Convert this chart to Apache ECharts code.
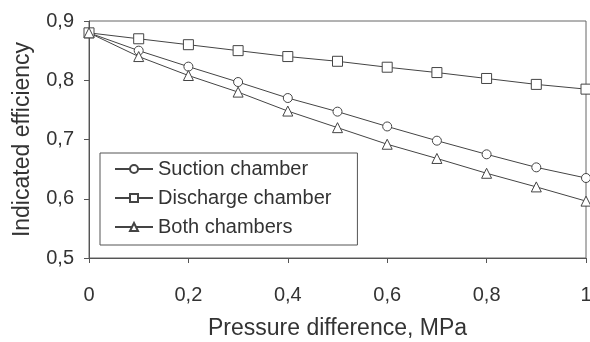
<!DOCTYPE html>
<html>
<head>
<meta charset="utf-8">
<script src="https://cdn.jsdelivr.net/npm/echarts@6/dist/echarts.min.js"></script>
<style>
  html, body { margin: 0; padding: 0; background: #fff; }
  #chart { width: 590px; height: 342px; }
</style>
</head>
<body>
<div id="chart"></div>
<script>
var pressure = [0, 0.1, 0.2, 0.3, 0.4, 0.5, 0.6, 0.7, 0.8, 0.9, 1.0];
var suction = [0.88, 0.85, 0.823, 0.797, 0.77, 0.747, 0.722, 0.698, 0.675, 0.653, 0.635];
var discharge = [0.88, 0.87, 0.86, 0.85, 0.84, 0.832, 0.822, 0.813, 0.803, 0.793, 0.785];
var both = [0.88, 0.84, 0.808, 0.78, 0.748, 0.72, 0.692, 0.668, 0.643, 0.62, 0.596];
var seriesNames = ['Suction chamber', 'Discharge chamber', 'Both chambers'];

function pairs(ys) {
  return pressure.map(function (x, i) { return [x, ys[i]]; });
}
function comma(v) {
  return String(Math.round(v * 10) / 10).replace('.', ',');
}

var ink = '#444';
var font = 'Liberation Sans';

var chart = echarts.init(document.getElementById('chart'));
chart.setOption({
  animation: false,
  textStyle: { fontFamily: font },
  grid: {
    left: 89, right: 4, top: 21, bottom: 84,
    outerBoundsMode: 'none',
    show: true, borderColor: '#666', borderWidth: 1
  },
  legend: {
    orient: 'vertical',
    left: 100, top: 153,
    padding: [6, 26, 8, 14],
    itemGap: 9,
    itemWidth: 38, itemHeight: 10,
    borderColor: '#555', borderWidth: 1,
    textStyle: { fontSize: 20, color: '#333', fontFamily: font },
    data: seriesNames
  },
  xAxis: {
    type: 'value', min: 0, max: 1, interval: 0.2,
    name: 'Pressure difference, MPa',
    nameLocation: 'middle', nameGap: 59,
    nameTextStyle: { fontSize: 23, color: '#333' },
    axisLine: { lineStyle: { color: '#555' } },
    axisTick: { show: true, length: 5, lineStyle: { color: '#555' } },
    axisLabel: { fontSize: 20, color: '#333', margin: 27, formatter: comma },
    splitLine: { show: false }
  },
  yAxis: {
    type: 'value', min: 0.5, max: 0.9, interval: 0.1,
    name: 'Indicated efficiency',
    nameLocation: 'middle', nameGap: 55,
    nameTextStyle: { fontSize: 23, color: '#333' },
    axisLine: { show: true, lineStyle: { color: '#555' } },
    axisTick: { show: true, length: 5, lineStyle: { color: '#555' } },
    axisLabel: { fontSize: 20, color: '#333', margin: 15, formatter: comma },
    splitLine: { show: false }
  },
  series: [
    {
      name: seriesNames[0], type: 'line', data: pairs(suction),
      symbol: 'circle', symbolSize: 9,
      lineStyle: { color: ink, width: 1 },
      itemStyle: { color: '#fff', borderColor: ink, borderWidth: 1 }
    },
    {
      name: seriesNames[1], type: 'line', data: pairs(discharge),
      symbol: 'rect', symbolSize: 10,
      lineStyle: { color: ink, width: 1 },
      itemStyle: { color: '#fff', borderColor: ink, borderWidth: 1 }
    },
    {
      name: seriesNames[2], type: 'line', data: pairs(both),
      symbol: 'triangle', symbolSize: 10,
      lineStyle: { color: ink, width: 1 },
      itemStyle: { color: '#fff', borderColor: ink, borderWidth: 1 }
    }
  ]
});
</script>
</body>
</html>
